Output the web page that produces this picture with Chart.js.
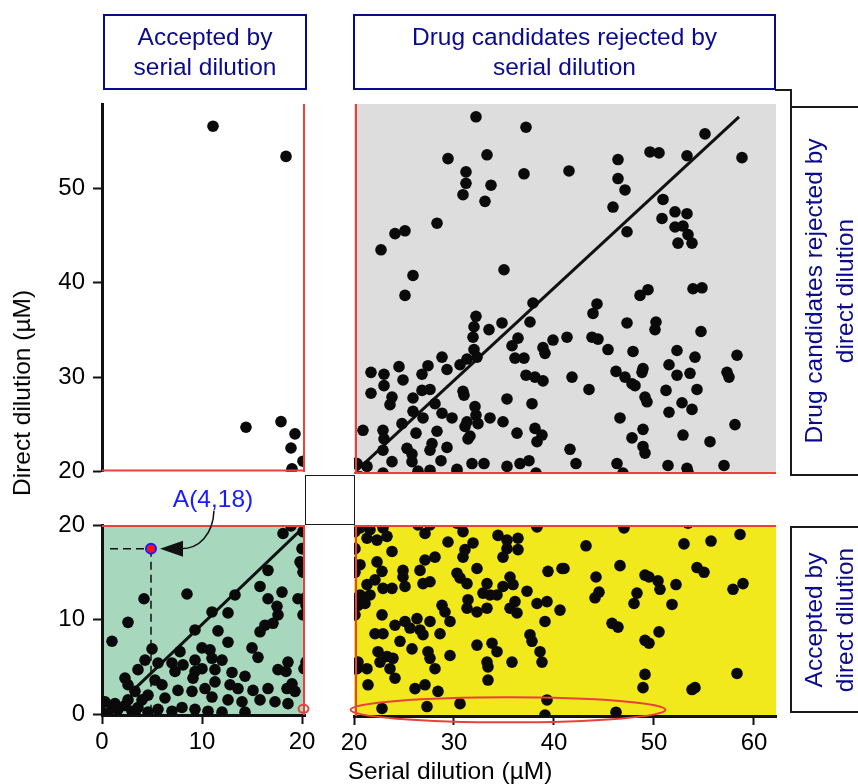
<!DOCTYPE html>
<html>
<head>
<meta charset="utf-8">
<script src="https://cdn.jsdelivr.net/npm/chart.js@4.4.1/dist/chart.umd.min.js"></script>
<style>
  body { margin: 0; width: 858px; height: 784px; overflow: hidden; position: relative; background: #fff;
         font-family: "Liberation Sans", Arial, sans-serif; }
  canvas { position: absolute; }
  .box { position: absolute; box-sizing: border-box; border: 2px solid #0a0a8c; color: #0a0a8c;
         font-size: 24.5px; line-height: 30px; text-align: center; display: flex; align-items: center; justify-content: center; }
  .frame { position: absolute; box-sizing: border-box; border: 2px solid #1a1a1a; }
  .line { position: absolute; background: #1a1a1a; }
  .vlabel { position: absolute; left: 829px; transform: translate(-50%, -50%) rotate(-90deg); white-space: nowrap;
            text-align: center; color: #0a0a8c; font-size: 24.5px; line-height: 31px; }
  .title { position: absolute; transform: translate(-50%, -50%); white-space: nowrap; color: #000; font-size: 24.5px; }
</style>
</head>
<body>
<canvas id="tl" width="330" height="420" style="left:0px;top:74px"></canvas>
<canvas id="tr" width="470" height="420" style="left:330px;top:74px"></canvas>
<canvas id="bl" width="330" height="300" style="left:0px;top:480px"></canvas>
<canvas id="br" width="470" height="300" style="left:330px;top:480px"></canvas>

<div class="box" style="left:103px;top:14px;width:204px;height:76px">Accepted by<br>serial dilution</div>
<div class="box" style="left:353px;top:14px;width:423px;height:76px">Drug candidates rejected by<br>serial dilution</div>

<div class="frame" style="left:790px;top:106px;width:100px;height:370px"></div>
<div class="frame" style="left:790px;top:526px;width:100px;height:187px"></div>
<div class="line" style="left:775px;top:89px;width:17px;height:2px"></div>
<div class="line" style="left:790px;top:89px;width:2px;height:19px"></div>
<div class="vlabel" style="top:291px">Drug candidates rejected by<br>direct dilution</div>
<div class="vlabel" style="top:620px">Accepted by<br>direct dilution</div>

<div class="frame" style="left:305px;top:475px;width:50px;height:50px;border-width:1.5px"></div>

<div class="title" style="left:22px;top:393px;transform:translate(-50%,-50%) rotate(-90deg)">Direct dilution (µM)</div>
<div class="title" style="left:450px;top:771px">Serial dilution (µM)</div>
<div class="title" style="left:213px;top:499px;color:#1a1aff">A(4,18)</div>

<script>
'use strict';

// serial dilution (x) vs direct dilution (y), in µM
var topLeft = [[11.1,56.6],[18.4,53.4],[14.4,24.7],[17.9,25.3],[19.3,24.0],[18.9,22.5],[20.1,21.1],[19.0,20.3]];

var topRight = [
  [32.2,57.6],[29.4,53.2],[33.3,53.6],[31.2,51.8],[31.2,50.6],[30.9,49.4],[33.7,50.4],[33.1,48.7],[28.3,46.4],[24.1,45.3],
  [25.1,45.6],[22.7,43.6],[25.9,40.9],[25.1,38.8],[32.2,36.6],[32.0,35.5],[31.9,34.4],[33.5,35.2],[32.0,33.1],[32.3,32.3],
  [28.8,32.3],[27.4,31.4],[29.3,31.0],[30.6,31.5],[31.3,32.1],[24.5,31.3],[21.7,30.7],[23.0,30.5],[24.9,29.9],[26.8,30.5],
  [23.0,29.3],[21.7,28.5],[23.8,28.1],[23.6,27.3],[25.9,28.0],[26.8,28.8],[27.6,28.9],[30.9,28.7],[31.0,28.3],[25.9,26.6],
  [28.1,27.4],[26.9,25.9],[28.8,26.4],[29.8,25.9],[32.1,27.1],[32.2,26.2],[31.3,25.5],[31.1,25.0],[32.4,25.3],[33.6,25.9],
  [24.8,25.3],[20.9,24.6],[22.9,24.6],[23.0,23.7],[26.2,24.3],[28.3,24.5],[31.4,23.7],[31.6,24.0],[25.3,22.7],[25.8,22.1],
  [27.8,23.2],[27.6,22.5],[29.3,22.8],[23.8,21.3],[25.8,21.3],[28.7,21.4],[22.9,22.5],[20.3,21.1],[21.3,20.8],[22.9,20.1],
  [26.4,20.3],[27.6,20.4],[30.3,20.5],[31.8,21.1],[33.0,21.1],
  [37.2,56.5],[37.0,51.6],[41.5,51.9],[46.4,53.1],[46.4,51.1],[47.1,49.9],[45.9,48.1],[47.3,45.5],[35.0,41.5],[37.9,38.0],
  [37.6,36.0],[34.8,35.9],[36.4,34.3],[35.8,33.5],[36.1,32.2],[37.0,32.2],[38.9,33.3],[39.1,32.7],[39.9,34.1],[41.3,34.4],
  [44.3,37.9],[43.9,36.9],[43.8,34.4],[44.4,34.2],[45.4,33.1],[47.3,35.9],[47.9,32.9],[37.2,30.4],[38.1,30.2],[38.9,29.8],
  [41.8,30.2],[43.5,28.9],[46.2,30.8],[47.1,30.2],[47.8,29.5],[35.3,27.9],[37.8,27.4],[34.9,25.5],[36.3,24.3],[38.1,24.8],
  [38.8,24.1],[38.3,23.4],[46.6,25.9],[47.8,23.8],[41.6,22.6],[42.2,21.1],[35.3,20.8],[36.6,21.1],[37.5,21.4],[38.2,20.1],
  [46.3,21.1],[46.9,20.1],
  [55.1,55.8],[49.6,53.9],[50.5,53.8],[53.3,53.5],[58.8,53.3],[50.9,48.9],[50.8,46.9],[52.1,47.6],[53.3,47.4],[52.1,46.0],
  [52.9,46.1],[53.4,45.2],[52.4,44.3],[53.8,44.3],[48.6,38.8],[49.4,39.4],[53.9,39.5],[54.8,39.6],[50.2,36.0],[50.1,35.2],
  [54.7,35.0],[52.3,33.0],[54.1,32.3],[58.3,32.5],[48.9,31.1],[48.8,30.7],[48.1,29.3],[51.5,31.5],[52.3,30.4],[53.6,30.6],
  [57.3,30.7],[57.5,30.2],[51.2,28.8],[54.3,28.9],[49.1,28.1],[49.3,27.6],[52.8,27.5],[53.8,26.8],[51.5,26.5],[58.1,25.2],
  [48.9,24.7],[48.9,22.9],[49.1,22.2],[52.9,24.1],[55.6,23.4],[51.4,20.9],[53.3,20.6],[57.0,20.9]
];

var bottomLeft = [
  [1.0,7.7],[2.6,9.7],[4.2,12.2],[8.5,12.7],[5.0,6.9],[18.1,19.1],[18.9,19.9],[20.0,17.5],[20.0,15.8],[20.1,15.0],
  [19.6,12.2],[20.1,10.5],[16.6,15.2],[15.8,13.5],[18.0,12.9],[16.6,12.2],[17.5,11.4],[17.6,10.5],[17.1,9.6],[16.3,9.4],
  [15.8,8.7],[13.3,12.6],[12.6,10.7],[11.0,10.8],[11.6,8.8],[9.3,8.9],[12.6,7.6],[15.0,7.0],[15.6,6.0],[17.6,4.7],
  [18.6,5.5],[19.0,3.2],[20.3,4.8],[10.0,7.0],[10.8,6.8],[12.0,5.7],[9.3,5.7],[7.8,6.6],[7.0,5.4],[8.1,5.2],
  [4.3,5.7],[5.6,5.4],[3.6,4.7],[2.3,3.8],[2.6,3.1],[5.3,3.6],[7.3,4.5],[9.1,3.8],[10.0,4.8],[11.3,4.7],
  [12.8,3.1],[13.6,2.7],[15.1,2.5],[16.6,2.7],[18.5,2.7],[19.3,2.4],[7.6,2.5],[9.0,2.4],[11.0,1.8],[12.6,1.5],
  [14.0,1.3],[15.8,1.5],[17.3,1.3],[18.6,1.1],[6.3,1.7],[4.6,2.0],[3.3,2.4],[0.3,1.3],[1.0,0.7],[1.6,0.5],
  [2.3,0.9],[3.0,0.3],[3.6,0.7],[4.6,0.2],[5.6,0.5],[7.0,0.3],[8.0,0.7],[9.3,0.5],[10.6,0.3],[12.0,0.2],
  [0.0,0.2],[0.6,0.0],[3.3,0.1],[14.3,0.2],[2.6,1.5],[1.3,1.1],[4.0,1.5],[6.0,3.1],[10.3,2.7],[11.3,3.4],
  [14.3,4.0],[13.0,4.4],[9.3,4.5],[11.0,5.9],[20.1,19.3],[19.8,16.1],[18.4,4.5]
];

var bottomRight = [
  [20.6,19.7],[21.6,19.5],[22.9,19.7],[22.3,18.4],[21.3,18.6],[23.3,18.8],[23.8,17.2],[20.1,17.5],[20.6,15.8],[22.3,16.1],
  [22.8,15.1],[22.1,14.2],[21.3,13.7],[20.6,12.6],[20.4,11.5],[21.6,12.6],[21.1,11.7],[22.9,13.3],[23.8,13.3],[24.9,15.2],
  [25.1,13.5],[24.9,14.5],[26.6,15.2],[26.9,13.8],[27.6,14.0],[27.1,16.3],[28.1,16.6],[27.1,19.1],[26.4,20.0],[27.6,20.0],
  [29.4,18.2],[30.9,19.3],[30.3,20.2],[31.1,17.4],[30.9,16.6],[31.9,18.1],[30.3,14.9],[30.6,14.4],[31.3,13.8],[32.3,15.4],
  [33.3,13.8],[32.9,12.8],[33.6,12.6],[34.3,12.6],[34.9,13.5],[34.9,16.6],[35.3,17.5],[35.3,18.4],[34.4,18.9],[36.4,18.6],
  [36.4,17.4],[35.6,14.5],[35.9,13.7],[35.6,11.2],[36.1,11.9],[36.3,10.7],[37.3,13.0],[38.3,11.7],[39.3,11.9],[39.1,9.8],
  [39.4,15.1],[40.8,15.4],[40.6,11.0],[38.3,19.8],[22.8,10.5],[24.1,9.4],[25.1,9.8],[26.3,10.1],[27.6,9.8],[28.8,11.5],
  [29.1,10.8],[29.6,9.8],[28.6,8.5],[26.6,8.9],[26.9,8.4],[25.6,9.1],[22.1,8.5],[22.9,8.5],[24.6,7.7],[25.8,6.9],
  [22.4,6.6],[23.3,6.1],[23.9,5.9],[23.6,4.8],[24.1,3.8],[22.6,5.5],[20.4,5.5],[21.3,4.8],[21.4,3.1],[27.4,6.6],
  [27.6,5.9],[28.1,4.8],[29.6,6.2],[26.1,2.7],[27.1,3.1],[28.4,2.4],[27.3,0.8],[30.6,1.1],[32.3,7.3],[33.3,5.5],
  [33.8,7.5],[34.3,6.6],[33.4,5.0],[33.4,3.6],[35.8,5.5],[37.6,8.4],[37.8,7.7],[38.6,6.6],[38.8,5.5],[39.3,1.5],
  [39.1,-0.1],[22.8,0.6],[31.3,11.2],[32.3,10.8],[33.3,11.2],[31.4,12.1],[20.2,12.2],[20.2,4.8],
  [47.0,19.7],[53.4,20.2],[43.2,17.8],[53.0,18.0],[55.7,18.3],[58.6,19.0],[41.0,15.4],[46.6,15.7],[44.2,14.5],[49.1,14.7],
  [49.5,14.5],[50.4,14.1],[50.6,13.2],[52.2,13.7],[54.3,15.5],[55.0,15.0],[58.9,13.8],[57.9,13.2],[44.5,12.9],[44.1,12.3],
  [48.3,12.8],[48.0,11.7],[51.8,11.6],[45.8,9.6],[46.4,9.2],[50.5,8.7],[49.1,7.8],[49.5,7.5],[49.1,4.2],[48.9,2.8],
  [53.8,2.6],[54.1,2.8],[58.3,4.3],[46.2,0.2]
];

var pointA = [4.9, 17.5];
var fitTop = [[20.2, 20.3], [58.5, 57.6]];
var fitBottom = [[3.0, 2.4], [20.3, 19.9]];
var ringCenter = [35.4, 0.45];
var ringRadius = [15.75, 1.32];

var leftXTicks = [0, 10, 20];
var rightXTicks = [20, 30, 40, 50, 60];
var topYTicks = [20, 30, 40, 50];
var bottomYTicks = [0, 10, 20];

Chart.defaults.font.family = '"Liberation Sans", Arial, sans-serif';

function toXY(arr) {
  return arr.map(function (p) { return {x: p[0], y: p[1]}; });
}
var allPoints = toXY(topLeft.concat(topRight, bottomLeft, bottomRight));

var RED = '#e8403c';
var panelStyle = {
  tl: {bg: null, red: ['right', 'bottom']},
  tr: {bg: '#dddddd', red: ['left', 'bottom']},
  bl: {bg: '#a7d8be', red: ['top', 'right']},
  br: {bg: '#f2e91c', red: ['top', 'left']}
};

function drawArrow(chart) {
  var ctx = chart.ctx;
  var ax = chart.scales.x.getPixelForValue(pointA[0]);
  var ay = chart.scales.y.getPixelForValue(pointA[1]);
  ctx.save();
  ctx.strokeStyle = '#111';
  ctx.fillStyle = '#111';
  ctx.lineWidth = 1.5;
  ctx.beginPath();
  ctx.moveTo(ax + 30, ay);
  ctx.bezierCurveTo(ax + 48, ay, ax + 62, ay - 14, ax + 63, ay - 38);
  ctx.stroke();
  ctx.beginPath();
  ctx.moveTo(ax + 9, ay);
  ctx.lineTo(ax + 32, ay - 8);
  ctx.lineTo(ax + 32, ay + 8);
  ctx.closePath();
  ctx.fill();
  // little red mark at the panel edge
  var ex = chart.scales.x.getPixelForValue(20.15), ey = chart.scales.y.getPixelForValue(0.55);
  ctx.strokeStyle = RED;
  ctx.lineWidth = 2;
  ctx.beginPath();
  ctx.ellipse(ex, ey, 5, 4, 0, 0, Math.PI * 2);
  ctx.stroke();
  ctx.restore();
}

function drawRing(chart) {
  var ctx = chart.ctx, x = chart.scales.x, y = chart.scales.y;
  var cx = x.getPixelForValue(ringCenter[0]), cy = y.getPixelForValue(ringCenter[1]);
  var rx = x.getPixelForValue(ringCenter[0] + ringRadius[0]) - cx;
  var ry = cy - y.getPixelForValue(ringCenter[1] + ringRadius[1]);
  ctx.save();
  ctx.strokeStyle = RED;
  ctx.lineWidth = 2;
  ctx.beginPath();
  ctx.ellipse(cx, cy, rx, ry, 0, 0, Math.PI * 2);
  ctx.stroke();
  ctx.restore();
}

var extras = {bl: drawArrow, br: drawRing};

var decor = {
  id: 'decor',
  beforeDraw: function (chart) {
    var st = panelStyle[chart.canvas.id];
    if (!st.bg) return;
    var a = chart.chartArea, ctx = chart.ctx;
    ctx.save();
    ctx.fillStyle = st.bg;
    ctx.fillRect(a.left, a.top, a.right - a.left, a.bottom - a.top);
    ctx.restore();
  },
  afterDatasetsDraw: function (chart) {
    var st = panelStyle[chart.canvas.id];
    var a = chart.chartArea, ctx = chart.ctx;
    ctx.save();
    ctx.strokeStyle = RED;
    ctx.lineWidth = 2;
    st.red.forEach(function (side) {
      ctx.beginPath();
      if (side === 'left') { ctx.moveTo(a.left + 2, a.top); ctx.lineTo(a.left + 2, a.bottom); }
      if (side === 'right') { ctx.moveTo(a.right - 1, a.top); ctx.lineTo(a.right - 1, a.bottom); }
      if (side === 'top') { ctx.moveTo(a.left, a.top + 1); ctx.lineTo(a.right, a.top + 1); }
      if (side === 'bottom') { ctx.moveTo(a.left, a.bottom - 1); ctx.lineTo(a.right, a.bottom - 1); }
      ctx.stroke();
    });
    ctx.restore();
    if (extras[chart.canvas.id]) extras[chart.canvas.id](chart);
  }
};

function scale(min, max, ticks, size, horizontal) {
  if (!ticks) return {type: 'linear', min: min, max: max, display: false};
  return {
    type: 'linear', min: min, max: max,
    afterFit: function (s) { if (horizontal) s.height = size; else s.width = size; },
    afterBuildTicks: function (s) { s.ticks = ticks.map(function (v) { return {value: v}; }); },
    border: {display: true, color: '#111', width: 3},
    grid: {drawOnChartArea: false, drawTicks: true, tickLength: 9, tickWidth: 2, tickColor: '#111', color: '#111'},
    ticks: {color: '#000', font: {size: 24}, padding: horizontal ? 4 : 8, maxRotation: 0, autoSkip: false}
  };
}

function lineSet(pts, extra) {
  var ds = {type: 'line', data: toXY(pts), showLine: true, borderColor: '#111', borderWidth: 3,
            pointRadius: 0, fill: false, clip: 0};
  for (var k in extra) ds[k] = extra[k];
  return ds;
}

function panel(id, xs, ys, pad, annotate) {
  var datasets = [];
  if (annotate) {
    datasets.push({data: toXY([pointA]), pointRadius: 5, backgroundColor: '#ff1010',
                   borderColor: '#1a1aff', borderWidth: 2, clip: false});
  }
  datasets.push({data: allPoints, pointRadius: 5.8, backgroundColor: '#0a0a0a', borderWidth: 0, clip: 0});
  datasets.push(lineSet(fitTop));
  datasets.push(lineSet(fitBottom));
  if (annotate) {
    datasets.push(lineSet([[0.8, pointA[1]], pointA], {borderWidth: 1.5, borderDash: [8, 5]}));
    datasets.push(lineSet([pointA, [pointA[0], 0.4]], {borderWidth: 1.5, borderDash: [8, 5]}));
  }
  return new Chart(document.getElementById(id), {
    type: 'scatter',
    data: {datasets: datasets},
    options: {
      responsive: false,
      animation: false,
      events: [],
      layout: {padding: pad},
      plugins: {legend: {display: false}, tooltip: {enabled: false}},
      scales: {x: xs, y: ys}
    },
    plugins: [decor]
  });
}

panel('tl', scale(0, 20.3), scale(20, 58.95, topYTicks, 102, false),
      {left: 0, right: 25, top: 30, bottom: 20});
panel('tr', scale(20, 62.2), scale(20, 58.95),
      {left: 24, right: 24, top: 30, bottom: 20});
panel('bl', scale(0, 20.3, leftXTicks, 65, true), scale(-0.1, 20, bottomYTicks, 102, false),
      {left: 0, right: 25, top: 45, bottom: 0}, true);
panel('br', scale(20, 62.2, rightXTicks, 64, true), scale(-0.2, 20),
      {left: 24, right: 24, top: 45, bottom: 0});
</script>
</body>
</html>
